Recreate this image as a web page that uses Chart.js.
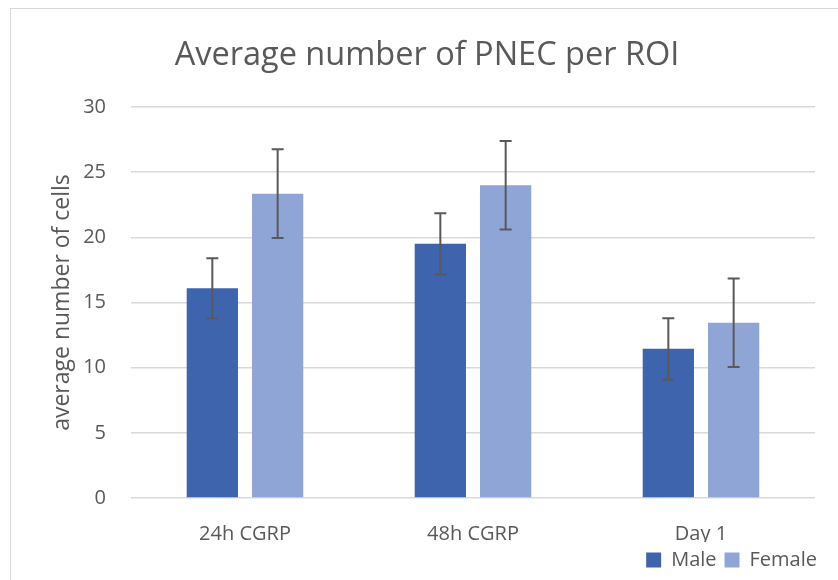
<!DOCTYPE html>
<html>
<head>
<meta charset="utf-8">
<script src="https://cdn.jsdelivr.net/npm/chart.js@4.4.0/dist/chart.umd.min.js"></script>
<style>
  html, body { margin: 0; padding: 0; background: #fff; }
  #wrap { position: relative; width: 838px; height: 580px; overflow: hidden; }
  #frame { position: absolute; left: 10px; top: 8px; width: 840px; height: 600px; border: 1px solid #d9d9d9; box-sizing: border-box; }
  canvas { position: absolute; left: 0; top: 0; }
</style>
</head>
<body>
<div id="wrap">
  <div id="frame"></div>
  <canvas id="chart" width="838" height="580"></canvas>
</div>
<script>
// data
const categories = ['24h CGRP', '48h CGRP', 'Day 1'];
const maleValues = [16.1, 19.5, 11.45];
const maleErrors = [2.3, 2.35, 2.35];
const femaleValues = [23.35, 24.0, 13.45];
const femaleErrors = [3.4, 3.4, 3.4];
const yTicks = [0, 5, 10, 15, 20, 25, 30];

const textColor = '#595959';
const font = "'Open Sans', 'Noto Sans', sans-serif";

// simple error bars drawn from the scale
const errorBars = {
  id: 'errorBars',
  afterLayout(chart) {
    // legend sits a little closer to the right edge than the plot
    chart.legend.left += 10;
    chart.legend.right += 10;
  },
  afterDatasetsDraw(chart) {
    const ctx = chart.ctx;
    const y = chart.scales.y;
    ctx.save();
    ctx.strokeStyle = '#595959';
    ctx.lineWidth = 2;
    chart.data.datasets.forEach((ds, i) => {
      const meta = chart.getDatasetMeta(i);
      meta.data.forEach((bar, j) => {
        const v = ds.data[j], e = ds.errors[j];
        const top = y.getPixelForValue(v + e);
        const bot = y.getPixelForValue(v - e);
        ctx.beginPath();
        ctx.moveTo(bar.x, top); ctx.lineTo(bar.x, bot);
        ctx.moveTo(bar.x - 6, top); ctx.lineTo(bar.x + 6, top);
        ctx.moveTo(bar.x - 6, bot); ctx.lineTo(bar.x + 6, bot);
        ctx.stroke();
      });
    });
    ctx.restore();
  }
};

new Chart(document.getElementById('chart'), {
  type: 'bar',
  data: {
    labels: categories,
    datasets: [
      { label: 'Male', data: maleValues, errors: maleErrors, backgroundColor: '#3d64ad' },
      { label: 'Female', data: femaleValues, errors: femaleErrors, backgroundColor: '#8fa5d6' }
    ]
  },
  options: {
    responsive: false,
    animation: false,
    categoryPercentage: 0.573,
    barPercentage: 0.785,
    layout: { padding: { left: 39, right: 23, top: 10, bottom: 0 } },
    plugins: {
      title: {
        display: true,
        text: 'Average number of PNEC per ROI',
        color: textColor,
        font: { family: font, size: 32.5, weight: 'normal' },
        padding: { top: 26, bottom: 32 }
      },
      legend: {
        position: 'bottom',
        align: 'end',
        labels: {
          color: textColor,
          font: { family: font, size: 20 },
          boxWidth: 15,
          boxHeight: 15,
          padding: 8
        }
      },
      tooltip: { enabled: false }
    },
    scales: {
      x: {
        afterFit: s => { s.height = 44; },
        grid: { display: false },
        border: { display: false },
        ticks: { color: textColor, font: { family: font, size: 20 }, padding: 16 }
      },
      y: {
        min: 0,
        max: 30,
        afterBuildTicks: s => { s.ticks = yTicks.map(v => ({ value: v })); },
        afterFit: s => { s.width = 92; },
        grid: { color: '#d9d9d9', lineWidth: 1.5, drawTicks: false },
        border: { display: false },
        ticks: { color: textColor, font: { family: font, size: 20 }, padding: 25 },
        title: {
          display: true,
          text: 'average number of cells',
          color: textColor,
          font: { family: font, size: 23 },
          padding: { top: 10, bottom: 0 }
        }
      }
    }
  },
  plugins: [errorBars]
});
</script>
</body>
</html>
